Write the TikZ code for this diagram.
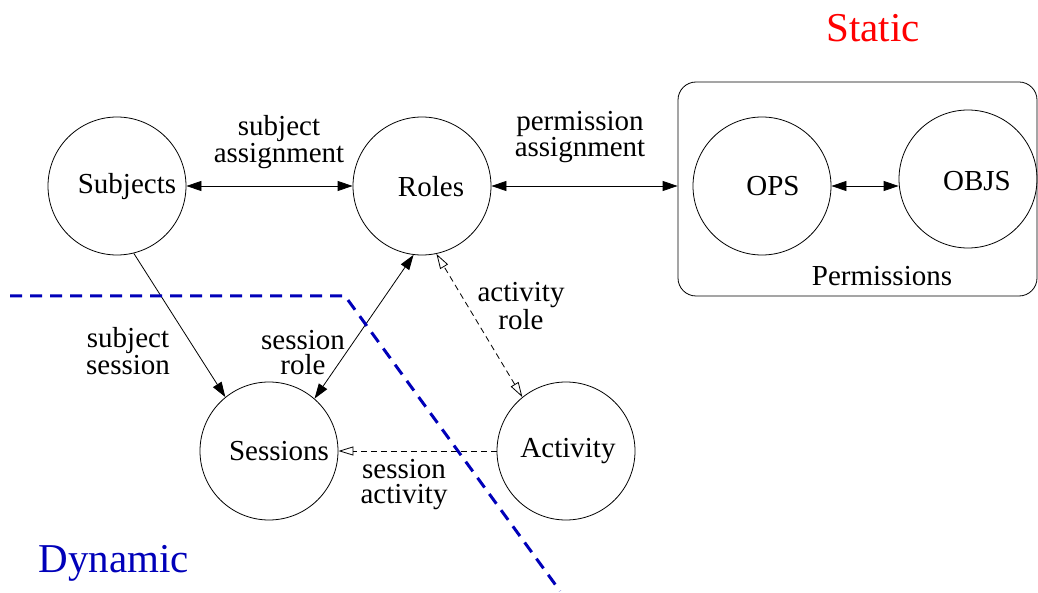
\documentclass[tikz,border=0pt]{standalone}
\usepackage{fontspec}
\setmainfont{Liberation Serif}
\newfontfamily\figfont{Liberation Serif}
\usetikzlibrary{arrows.meta}
\definecolor{dynblue}{RGB}{0,0,185}
\definecolor{statred}{RGB}{255,0,0}
\begin{document}
\begin{tikzpicture}[x=1pt,y=-1pt,
  ent/.style={circle,draw,line width=0.8pt,minimum size=138pt,inner sep=0pt},
  txt/.style={font=\figfont\fontsize{29}{25}\selectfont,align=center,inner sep=0pt},
  big/.style={font=\figfont\fontsize{41}{41}\selectfont,inner sep=0pt},
  con/.style={line width=0.8pt},
  fulltip/.tip={Triangle[length=15pt,width=10pt]},
  opentip/.tip={Triangle[open,length=15pt,width=9pt]},
  dashcon/.style={con,dash pattern=on 6pt off 4pt},
  border/.style={line width=3pt,color=dynblue,dash pattern=on 12pt off 8pt}
]
\useasboundingbox (0,0) rectangle (1038,593);

% permissions container
\node[draw,line width=0.8pt,rounded corners=18pt,minimum width=359pt,minimum height=214pt,inner sep=0pt] (perm) at (857.5,189) {};

% entities
\node[ent] (subj) at (117,186) {};
\node[ent] (roles) at (422,186) {};
\node[ent] (sess) at (269,451) {};
\node[ent] (act) at (566,451) {};
\node[ent] (ops) at (762,186) {};
\node[ent] (objs) at (968,179) {};

% entity names
\node[txt] (tsubj) at (127,187) {Subjects};
\node[txt] (troles) at (431,187) {Roles};
\node[txt] (tsess) at (279,451) {Sessions};
\node[txt] (tact) at (568,451) {Activity};
\node[txt] (tops) at (773,186) {OPS};
\node[txt] (tobjs) at (977,181) {OBJS};
\node[txt] (tperm) at (882,276) {Permissions};

% relations
\draw[con,fulltip-fulltip] (subj.east) -- (roles.west);
\draw[con,fulltip-fulltip] (roles.east) -- (roles.east -| perm.west);
\draw[con,fulltip-fulltip] (ops.east) -- (ops.east -| objs.west);
\draw[con,-fulltip] (subj.-76) -- (sess.129);
\draw[con,fulltip-fulltip] (sess.49) -- (roles.263);
\draw[dashcon,opentip-opentip] (act.129) -- (roles.-78);
\draw[dashcon,-opentip] (act.west) -- (sess.east);

% relation labels
\node[txt] (lsa) at (279,142) {subject\\assignment};
\node[txt] (lpa) at (580,137) {permission\\assignment};
\node[txt] (lss) at (128,351) {subject\\session};
\node[txt] (lsr) at (303,353) {session\\role};
\node[txt] (lar) at (521,306) {activity\\role};
\node[txt] (lsac) at (404,485) {session\\activity};

% static / dynamic boundary
\coordinate (b1) at (10,296);
\coordinate (b2) at (345,296);
\coordinate (b3) at (560,591);
\draw[border] (b1) -- (b2) -- (b3);

\node[big,text=statred] (static) at (873,28) {Static};
\node[big,text=dynblue] (dynamic) at (114,563) {Dynamic};
\end{tikzpicture}
\end{document}
